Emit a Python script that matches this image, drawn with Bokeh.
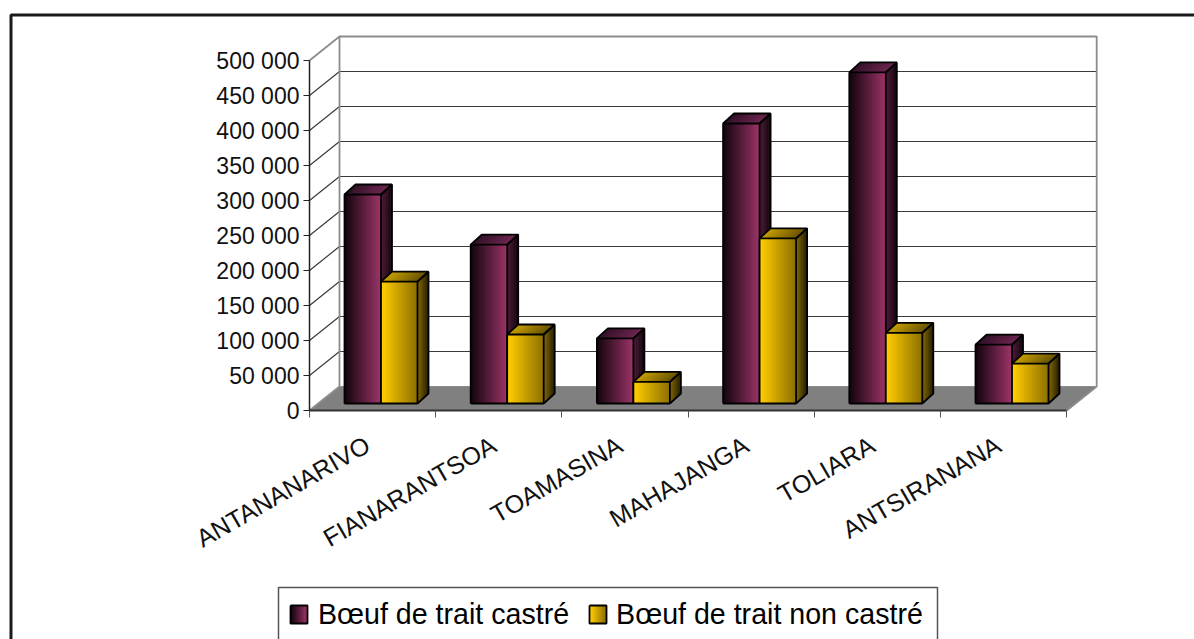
import math
from bokeh.embed import file_html
from bokeh.resources import INLINE
from bokeh.plotting import figure
from bokeh.models import FixedTicker, Legend, LegendItem, LinearAxis, Range1d

categories = ["ANTANANARIVO", "FIANARANTSOA", "TOAMASINA", "MAHAJANGA", "TOLIARA", "ANTSIRANANA"]
castre = [298600, 227000, 93000, 400000, 473000, 84000]
non_castre = [174000, 98600, 31000, 236000, 101000, 57000]
tick_values = [0, 50000, 100000, 150000, 200000, 250000, 300000, 350000, 400000, 450000, 500000]
tick_labels = ["0", "50 000", "100 000", "150 000", "200 000", "250 000",
               "300 000", "350 000", "400 000", "450 000", "500 000"]
series_names = ["Bœuf de trait castré", "Bœuf de trait non castré"]

FONT = "Liberation Sans"
W, H = 1194, 639
X0, Y0 = 309, 410                        # canvas pixel of the chart origin
PX_X = 126.2                             # pixels per category
PX_Y = 0.700 / 1000                      # pixels per value unit


def dx(px):
    return px / PX_X


def dy(px):
    return px / PX_Y


def cx(px):
    return (px - X0) / PX_X


def cy(py):
    return (Y0 - py) / PX_Y


p = figure(width=W, height=H, output_backend="svg", toolbar_location=None,
           x_axis_location=None, y_axis_location=None,
           x_range=Range1d(cx(0), cx(W)), y_range=Range1d(cy(H), cy(0)),
           min_border_left=0, min_border_right=0, min_border_top=0, min_border_bottom=0,
           background_fill_color="white", border_fill_color="white", outline_line_color=None)
p.grid.visible = False

# outer frame (only top and left edges are visible in the picture)
p.line([cx(10.5), cx(10.5), cx(W)], [cy(H), cy(14.5), cy(14.5)], line_color="#1a1a1a", line_width=3)

# 3D box: floor, back wall and gridlines
DEPTH_X, DEPTH_Y = dx(30), dy(24)
n = len(categories)
p.patch([0, DEPTH_X, n + DEPTH_X, n], [0, DEPTH_Y, DEPTH_Y, 0], fill_color="#808080", line_color=None)
top_val = tick_values[-1]
for v in tick_values[1:-1]:
    p.line([0, DEPTH_X, n + DEPTH_X], [v, v + DEPTH_Y, v + DEPTH_Y], line_color="#3a3a3a", line_width=1.2)
p.line([0, DEPTH_X, n + DEPTH_X, n + DEPTH_X, n], [top_val, top_val + DEPTH_Y, top_val + DEPTH_Y, DEPTH_Y, 0],
       line_color="#8c8c8c", line_width=1.8)
p.line([DEPTH_X, DEPTH_X, 0], [top_val + DEPTH_Y, DEPTH_Y, 0], line_color="#8c8c8c", line_width=1.8)
p.line([DEPTH_X, n + DEPTH_X], [DEPTH_Y, DEPTH_Y], line_color="#8c8c8c", line_width=1)


def mix(a, b, t):
    return "#%02x%02x%02x" % tuple(round(a[i] + (b[i] - a[i]) * t) for i in range(3))


STYLES = [
    dict(front=((0x16, 0x05, 0x10), (0x99, 0x33, 0x66)),
         side=((0x4c, 0x1a, 0x38), (0x14, 0x05, 0x0e)),
         top=((0x33, 0x12, 0x28), (0x6e, 0x26, 0x50))),
    dict(front=((0xff, 0xcc, 0x00), (0x8f, 0x72, 0x00)),
         side=((0x80, 0x66, 0x00), (0x26, 0x1e, 0x00)),
         top=((0xc4, 0x9c, 0x00), (0x6a, 0x55, 0x00))),
]
BAR_OFFSET = dx(35)
BAR_W = dx(36.5)
BAR_DX, BAR_DY = dx(11), dy(10)
BASE = dy(7)
STRIPS = 18


def bar(x0, value, style):
    x1 = x0 + BAR_W
    y0, y1 = BASE, BASE + value
    xs, ys, cs = [], [], []
    for face in ("front", "side", "top"):
        for i in range(STRIPS):
            a, b = i / STRIPS, min((i + 2) / STRIPS, 1)
            t = i / (STRIPS - 1)
            if face == "front":
                xa, xb = x0 + BAR_W * a, x0 + BAR_W * b
                xs.append([xa, xb, xb, xa])
                ys.append([y0, y0, y1, y1])
            elif face == "side":
                xa, xb = x1 + BAR_DX * a, x1 + BAR_DX * b
                ya, yb = BAR_DY * a, BAR_DY * b
                xs.append([xa, xb, xb, xa])
                ys.append([y0 + ya, y0 + yb, y1 + yb, y1 + ya])
            else:
                xa, xb = x0 + BAR_W * a, x0 + BAR_W * b
                xs.append([xa, xb, xb + BAR_DX, xa + BAR_DX])
                ys.append([y1, y1, y1 + BAR_DY, y1 + BAR_DY])
            cs.append(mix(*style[face], t))
    p.patches(xs, ys, fill_color=cs, line_color=None)
    p.multi_line(
        [[x0, x1, x1, x0, x0], [x0, x0 + BAR_DX, x1 + BAR_DX, x1],
         [x1, x1 + BAR_DX, x1 + BAR_DX, x1]],
        [[y0, y0, y1, y1, y0], [y1, y1 + BAR_DY, y1 + BAR_DY, y1],
         [y0, y0 + BAR_DY, y1 + BAR_DY, y1]],
        line_color="black", line_width=1.8)


for i in range(n):
    bar(i + BAR_OFFSET, castre[i], STYLES[0])
    bar(i + BAR_OFFSET + BAR_W, non_castre[i], STYLES[1])

# real axes, pinned to the origin of the chart
y_axis = LinearAxis(ticker=FixedTicker(ticks=tick_values), fixed_location=0,
                    major_label_overrides=dict(zip(tick_values, tick_labels)),
                    bounds=(0, top_val), axis_line_color="#222222", axis_line_width=1.5,
                    major_tick_in=0, major_tick_out=6, major_tick_line_color="#222222",
                    minor_tick_line_color=None, major_label_standoff=4,
                    major_label_text_font=FONT, major_label_text_font_size="23px",
                    major_label_text_color="#111111")
p.add_layout(y_axis, "left")

mids = [i + 0.46 for i in range(n)]
x_axis = LinearAxis(ticker=FixedTicker(ticks=mids, minor_ticks=list(range(n + 1))), fixed_location=0,
                    major_label_overrides=dict(zip(mids, categories)),
                    bounds=(0, n), axis_line_color="#333333", axis_line_width=1.8,
                    major_tick_in=0, major_tick_out=0, major_tick_line_color=None,
                    minor_tick_in=0, minor_tick_out=7, minor_tick_line_color="#555555",
                    major_label_standoff=25, major_label_orientation=math.radians(30),
                    major_label_text_font=FONT, major_label_text_font_size="25px",
                    major_label_text_color="#111111")
p.add_layout(x_axis, "below")

# legend box, cut by the bottom of the picture
p.line([cx(278), cx(278), cx(937), cx(937)], [cy(H), cy(587), cy(587), cy(H)], line_color="#555555", line_width=1.5)

r1 = p.quad(left=[], right=[], top=[], bottom=[], fill_color="#642345", line_color="black")
r2 = p.quad(left=[], right=[], top=[], bottom=[], fill_color="#c9a000", line_color="black")
legend = Legend(items=[LegendItem(label=series_names[0], renderers=[r1]),
                       LegendItem(label=series_names[1], renderers=[r2])],
                orientation="horizontal", location=(289, 8),
                label_text_font=FONT, label_text_font_size="28.6px", label_text_color="black",
                glyph_width=19, glyph_height=19, label_standoff=10, spacing=18,
                padding=0, margin=0, border_line_color=None, background_fill_alpha=0)
p.add_layout(legend, "center")

# gradient swatches of the legend
for left, style in zip((290, 589), STYLES):
    strips = 9
    sw = 17 / strips
    p.quad(left=[cx(left + sw * i) for i in range(strips)],
           right=[cx(left + sw * min(i + 2, strips)) for i in range(strips)],
           top=[cy(605)] * strips, bottom=[cy(623)] * strips,
           fill_color=[mix(*style["front"], i / (strips - 1)) for i in range(strips)],
           line_color=None, level="overlay")
    p.line([cx(left), cx(left + 17), cx(left + 17), cx(left), cx(left)],
           [cy(605), cy(605), cy(623), cy(623), cy(605)],
           line_color="black", line_width=1.8, level="overlay")

open("out.html", "w").write(file_html(p, INLINE))
